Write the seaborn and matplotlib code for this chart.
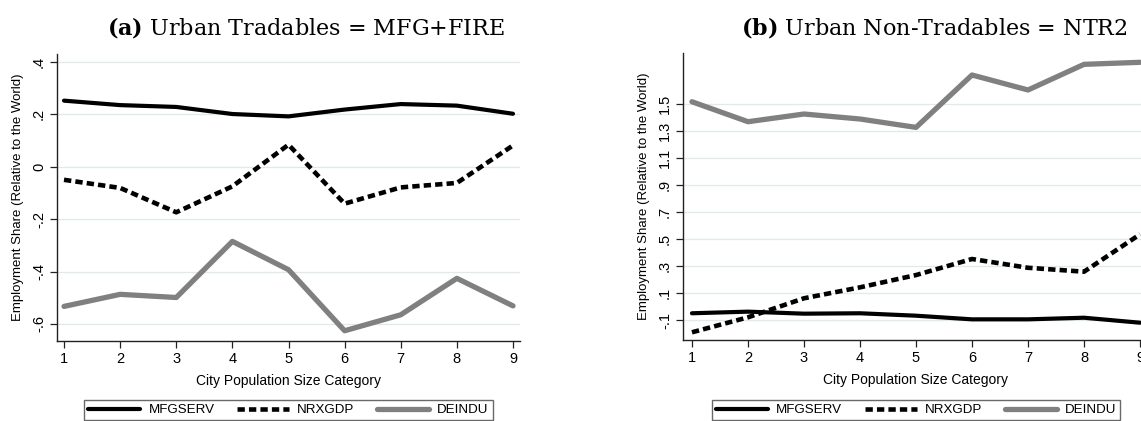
import matplotlib
matplotlib.use("Agg")
import matplotlib.pyplot as plt
import seaborn as sns
import pandas as pd
from matplotlib.lines import Line2D

# ---- data ----
categories = [1, 2, 3, 4, 5, 6, 7, 8, 9]
series_names = ["MFGSERV", "NRXGDP", "DEINDU"]

a_mfgserv = [0.252, 0.235, 0.228, 0.201, 0.192, 0.218, 0.239, 0.233, 0.202]
a_nrxgdp = [-0.050, -0.081, -0.174, -0.075, 0.084, -0.141, -0.079, -0.062, 0.081]
a_deindu = [-0.533, -0.487, -0.499, -0.285, -0.393, -0.626, -0.565, -0.426, -0.531]

b_mfgserv = [-0.050, -0.038, -0.053, -0.050, -0.068, -0.095, -0.095, -0.083, -0.120]
b_nrxgdp = [-0.191, -0.080, 0.061, 0.142, 0.233, 0.352, 0.287, 0.258, 0.535]
b_deindu = [1.517, 1.369, 1.426, 1.389, 1.327, 1.715, 1.604, 1.794, 1.809]

a_yticks = [-0.6, -0.4, -0.2, 0.0, 0.2, 0.4]
a_yticklabels = ["-.6", "-.4", "-.2", "0", ".2", ".4"]
b_yticks = [-0.1, 0.1, 0.3, 0.5, 0.7, 0.9, 1.1, 1.3, 1.5]
b_yticklabels = ["-.1", ".1", ".3", ".5", ".7", ".9", "1.1", "1.3", "1.5"]

title_a_bold, title_a_rest = "(a)", "Urban Tradables = MFG+FIRE"
title_b_bold, title_b_rest = "(b)", "Urban Non-Tradables = NTR2"
xlabel = "City Population Size Category"
ylabel = "Employment Share (Relative to the World)"

# ---- style ----
sns.set_theme(style="white")
plt.rcParams["font.family"] = ["Liberation Sans", "DejaVu Sans"]
plt.rcParams["mathtext.fontset"] = "custom"
plt.rcParams["mathtext.bf"] = "DejaVu Serif:bold"
plt.rcParams["mathtext.rm"] = "DejaVu Serif"
plt.rcParams["text.color"] = "black"
plt.rcParams["axes.labelcolor"] = "black"
plt.rcParams["xtick.color"] = "black"
plt.rcParams["ytick.color"] = "black"

styles = {
    "MFGSERV": dict(color="black", lw=3.0, ls="-"),
    "NRXGDP": dict(color="black", lw=3.3, ls=(0, (1.6, 0.9))),
    "DEINDU": dict(color="#808080", lw=3.8, ls="-"),
}

fig = plt.figure(figsize=(11.41, 4.21), dpi=100)
W, H = 1141, 421

def add_axes(l, r, t, b):
    return fig.add_axes([l / W, 1 - b / H, (r - l) / W, (b - t) / H])

ax_a = add_axes(57, 520, 54, 341)
ax_b = add_axes(683, 1149, 53, 340)

def draw(ax, data, yticks, yticklabels, xlim, ylim):
    df = pd.DataFrame({"cat": categories * 3,
                       "val": data[0] + data[1] + data[2],
                       "series": sum([[n] * len(categories) for n in series_names], [])})
    for i, name in enumerate(series_names):
        sub = df[df["series"] == name]
        st = styles[name]
        sns.lineplot(data=sub, x="cat", y="val", ax=ax, color=st["color"],
                     linewidth=st["lw"], linestyle=st["ls"], legend=False,
                     errorbar=None, zorder=3 + i)
    for ln in ax.lines:
        ln.set_solid_joinstyle("round")
        ln.set_dash_capstyle("butt")
    ax.set_xlim(*xlim)
    ax.set_ylim(*ylim)
    ax.set_xticks(categories)
    ax.set_xticklabels([str(c) for c in categories], fontsize=10.5)
    ax.set_yticks(yticks)
    ax.set_yticklabels(yticklabels, fontsize=10.5, rotation=90, va="center")
    for y in yticks:
        ax.axhline(y, color="#dfe9ee", lw=0.9, zorder=1)
    for s in ["top", "right"]:
        ax.spines[s].set_visible(False)
    for s in ["left", "bottom"]:
        ax.spines[s].set_color("#222222")
        ax.spines[s].set_linewidth(1.0)
    ax.tick_params(axis="both", direction="out", length=5, width=0.9,
                   color="#222222", labelcolor="black", pad=3,
                   left=True, bottom=True)
    ax.set_xlabel(xlabel, fontsize=10, labelpad=6)
    ax.set_ylabel(ylabel, fontsize=9.5, labelpad=6)
    ax.set_facecolor("white")
    handles = [Line2D([0], [0], color=styles[n]["color"], lw=styles[n]["lw"],
                      ls=styles[n]["ls"]) for n in series_names]
    pos = ax.get_position()
    leg = ax.legend(handles, series_names, loc="upper center",
                    bbox_to_anchor=(pos.x0 + pos.width / 2, 1 - 400 / H),
                    bbox_transform=fig.transFigure, borderaxespad=0,
                    ncol=3, frameon=True, fancybox=False, fontsize=9.6,
                    handlelength=3.9, handletextpad=0.6, columnspacing=1.7,
                    borderpad=0.3, edgecolor="#444444")
    leg.get_frame().set_linewidth(1.0)
    return leg

draw(ax_a, [a_mfgserv, a_nrxgdp, a_deindu], a_yticks, a_yticklabels,
     (0.875, 9.125), (-0.665, 0.43))
draw(ax_b, [b_mfgserv, b_nrxgdp, b_deindu], b_yticks, b_yticklabels,
     (0.84, 9.16), (-0.248, 1.878))

fig.text(306 / W, 1 - 27 / H, r"$\mathbf{" + title_a_bold + r"}$ " + title_a_rest,
         ha="center", va="center", fontsize=16, family="DejaVu Serif", color="black")
fig.text(934 / W, 1 - 27 / H, r"$\mathbf{" + title_b_bold + r"}$ " + title_b_rest,
         ha="center", va="center", fontsize=16, family="DejaVu Serif", color="black")

fig.savefig("out.png", dpi=100, facecolor="white")
